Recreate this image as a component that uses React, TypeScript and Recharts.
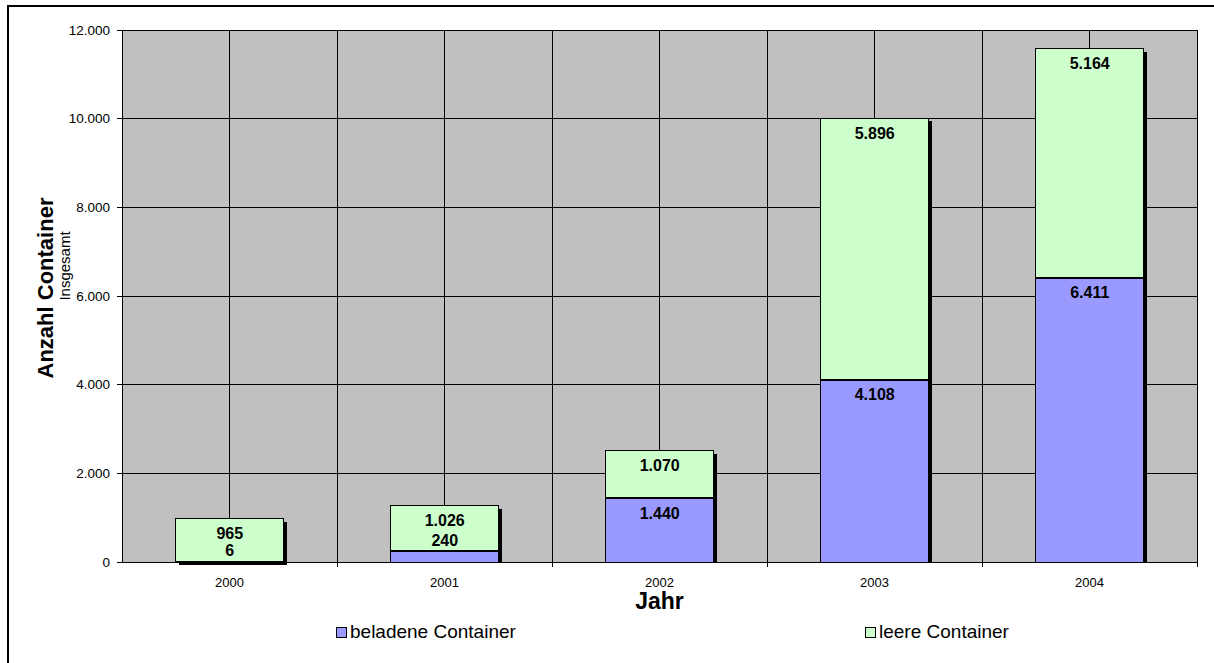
import React from "react";
import {
  BarChart,
  Bar,
  XAxis,
  YAxis,
  CartesianGrid,
  LabelList,
  Label,
} from "recharts";

// ─── DATA ─────────────────────────────────────────────────────────────────────

const years = ["2000", "2001", "2002", "2003", "2004"];
const beladen = [6, 240, 1440, 4108, 6411];
const leer = [965, 1026, 1070, 5896, 5164];
const yTicks = [0, 2000, 4000, 6000, 8000, 10000, 12000];

const chartData = years.map((jahr, i) => ({
  jahr,
  beladen: beladen[i],
  leer: leer[i],
}));

// ─── STYLE ────────────────────────────────────────────────────────────────────

const FONT = "'Liberation Sans', Arial, Helvetica, sans-serif";
const COLOR_BELADEN = "#9999FF";
const COLOR_LEER = "#CCFFCC";
const PLOT_BG = "#C0C0C0";

const W = 1214;
const H = 663;
const PLOT_LEFT = 122;
const PLOT_RIGHT = 1197;
const HALF_BAND = (PLOT_RIGHT - PLOT_LEFT) / years.length / 2;

/** Tausenderpunkt wie im Original (12.000) */
const fmt = (v: number) => String(v).replace(/\B(?=(\d{3})+(?!\d))/g, ".");

// ─── BAR WITH EXCEL-LIKE SHADOW ───────────────────────────────────────────────

function ShadowBar(props: any) {
  const { x, y, width, height, fill, lower } = props;
  if (height == null || isNaN(height)) return null;
  const h = Math.max(height, 0);
  return (
    <g>
      {lower ? (
        <rect x={x + width} y={y} width={3} height={h} fill="#000" />
      ) : (
        <rect x={x + 3} y={y + 3} width={width} height={h} fill="#000" />
      )}
      <rect x={x} y={y} width={width} height={h} fill={fill} stroke="#000" strokeWidth={1} />
      {lower && height > 2 && <rect x={x} y={y - 1} width={width + 3} height={2} fill="#000" />}
    </g>
  );
}

// ─── DATA LABEL ───────────────────────────────────────────────────────────────

function ValueLabel(props: any) {
  const { x, y, width, height, value } = props;
  const cy = height < 30 ? y - 11 : y + 15;
  return (
    <text
      x={x + width / 2}
      y={cy}
      textAnchor="middle"
      dominantBaseline="central"
      fontFamily={FONT}
      fontWeight="bold"
      fontSize={16}
      fill="#000"
    >
      {fmt(value)}
    </text>
  );
}

// ─── X TICK (label in center, tick mark on category boundary) ────────────────

function YearTick(props: any) {
  const { x, y, payload } = props;
  return (
    <g>
      <line x1={x + HALF_BAND} x2={x + HALF_BAND} y1={y} y2={y + 5} stroke="#000" />
      <text
        x={x}
        y={y + 20}
        textAnchor="middle"
        dominantBaseline="central"
        fontFamily={FONT}
        fontSize={13}
        fill="#000"
      >
        {payload.value}
      </text>
    </g>
  );
}

// ─── LEGEND ───────────────────────────────────────────────────────────────────

function LegendItem({ left, color, text }: { left: number; color: string; text: string }) {
  return (
    <div
      style={{
        position: "absolute",
        left,
        top: 621,
        height: 22,
        display: "flex",
        alignItems: "center",
        fontFamily: FONT,
        fontSize: 19,
        color: "#000",
        whiteSpace: "nowrap",
      }}
    >
      <span
        style={{
          width: 9,
          height: 9,
          background: color,
          border: "1px solid #000",
          marginRight: 3,
          display: "inline-block",
        }}
      />
      {text}
    </div>
  );
}

// ─── MAIN ─────────────────────────────────────────────────────────────────────

export default function App() {
  return (
    <div
      style={{
        position: "fixed",
        left: 0,
        top: 0,
        width: W,
        height: H,
        background: "#fff",
        overflow: "hidden",
      }}
    >
      {/* Rahmen (nur oben/links sichtbar) */}
      <div style={{ position: "absolute", left: 7, top: 5, width: W - 7, height: 2, background: "#000" }} />
      <div style={{ position: "absolute", left: 7, top: 5, width: 2, height: H - 5, background: "#000" }} />

      <BarChart
        width={W}
        height={H}
        data={chartData}
        margin={{ top: 30, right: W - PLOT_RIGHT, bottom: 0, left: 0 }}
        barCategoryGap="25%"
        reverseStackOrder
        style={{ position: "absolute", left: 0, top: 0, shapeRendering: "crispEdges", outline: "none" }}
      >
        <CartesianGrid
          fill={PLOT_BG}
          fillOpacity={1}
          stroke="#000"
          strokeOpacity={1}
          verticalCoordinatesGenerator={({ offset }: any) => {
            const pts: number[] = [];
            for (let i = 1; i <= years.length * 2; i++) {
              pts.push(offset.left + (i * offset.width) / (years.length * 2));
            }
            return pts;
          }}
        />
        <XAxis
          dataKey="jahr"
          height={101}
          axisLine={{ stroke: "#000" }}
          tickLine={false}
          tickSize={0}
          tickMargin={0}
          tick={<YearTick />}
          interval={0}
        >
          <Label
            content={() => (
              <text
                x={(PLOT_LEFT + PLOT_RIGHT) / 2}
                y={601}
                textAnchor="middle"
                dominantBaseline="central"
                fontFamily={FONT}
                fontWeight="bold"
                fontSize={23}
                fill="#000"
              >
                Jahr
              </text>
            )}
          />
        </XAxis>
        <YAxis
          width={PLOT_LEFT}
          domain={[0, 12000]}
          ticks={yTicks}
          interval={0}
          tickFormatter={fmt}
          axisLine={{ stroke: "#000" }}
          tickLine={{ stroke: "#000" }}
          tickSize={5}
          tickMargin={7}
          tick={{ fill: "#000", fontSize: 13.5, fontFamily: FONT }}
        >
          <Label
            content={() => (
              <g>
                <text
                  transform="translate(53,288) rotate(-90)"
                  textAnchor="middle"
                  fontFamily={FONT}
                  fontWeight="bold"
                  fontSize={22}
                  fill="#000"
                >
                  Anzahl Container
                </text>
                <text
                  transform="translate(70,266) rotate(-90)"
                  textAnchor="middle"
                  fontFamily={FONT}
                  fontSize={15}
                  fill="#000"
                >
                  Insgesamt
                </text>
              </g>
            )}
          />
        </YAxis>
        <Bar
          dataKey="leer"
          name="leere Container"
          stackId="a"
          fill={COLOR_LEER}
          isAnimationActive={false}
          shape={(p: any) => <ShadowBar {...p} fill={COLOR_LEER} />}
        >
          <LabelList dataKey="leer" content={<ValueLabel />} />
        </Bar>
        <Bar
          dataKey="beladen"
          name="beladene Container"
          stackId="a"
          fill={COLOR_BELADEN}
          isAnimationActive={false}
          shape={(p: any) => <ShadowBar {...p} fill={COLOR_BELADEN} lower />}
        >
          <LabelList dataKey="beladen" content={<ValueLabel />} />
        </Bar>
      </BarChart>

      <LegendItem left={336} color={COLOR_BELADEN} text="beladene Container" />
      <LegendItem left={865} color={COLOR_LEER} text="leere Container" />
    </div>
  );
}
